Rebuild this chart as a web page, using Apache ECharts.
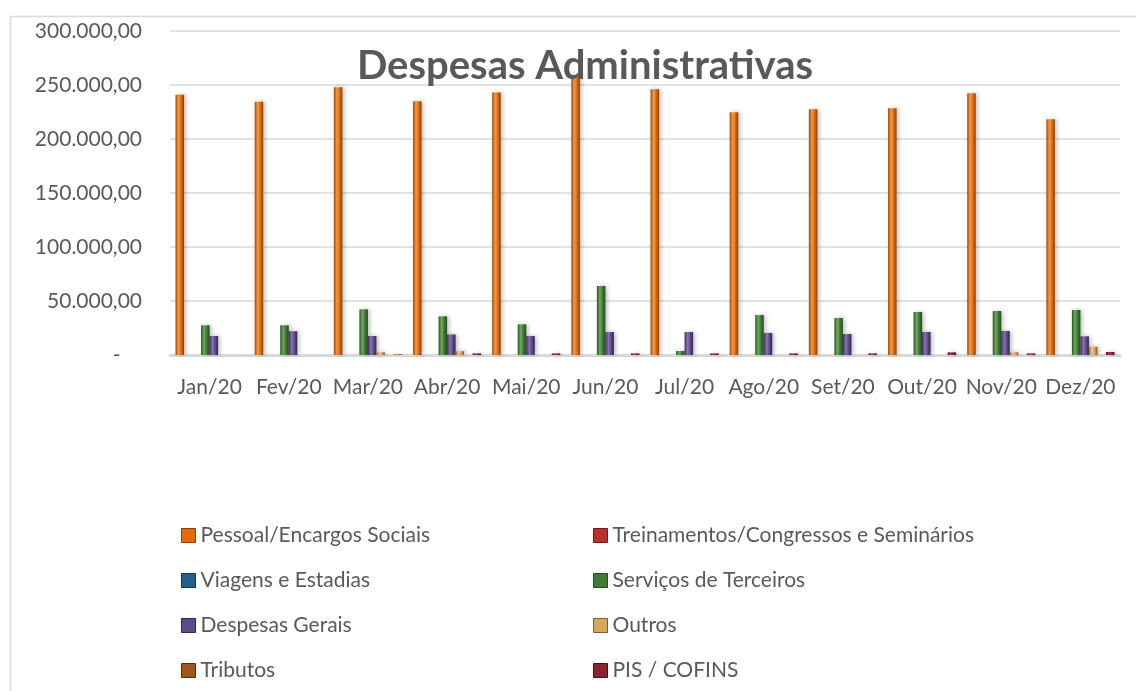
<!DOCTYPE html>
<html>
<head>
<meta charset="utf-8">
<script src="https://cdn.jsdelivr.net/npm/echarts@6/dist/echarts.min.js"></script>
<style>
html,body{margin:0;padding:0;background:#fff;}
#chart{width:1136px;height:691px;}
</style>
</head>
<body>
<div id="chart"></div>
<script>
const categories = ['Jan/20','Fev/20','Mar/20','Abr/20','Mai/20','Jun/20','Jul/20','Ago/20','Set/20','Out/20','Nov/20','Dez/20'];
const pessoal      = [241000,234500,248000,235000,243000,259000,246000,224700,227500,228400,242300,218200];
const treinamentos = [0,0,0,0,0,0,0,0,0,0,0,0];
const viagens      = [0,0,0,0,0,0,0,0,0,0,0,0];
const servicos     = [27500,27500,42300,35800,28400,63900,3700,37000,34300,39800,40700,41700];
const gerais       = [17600,22000,17600,19000,17600,21300,21300,20400,19400,21300,22200,17300];
const outros       = [0,0,2500,3500,0,0,0,0,0,0,2500,7600];
const tributos     = [0,0,0,0,0,0,0,0,0,0,0,0];
const pis          = [0,0,500,1500,1500,1500,1500,1500,1500,2500,1500,2800];
const yTicks = [0,50000,100000,150000,200000,250000,300000];

const names = ['Pessoal/Encargos Sociais','Treinamentos/Congressos e Seminários','Viagens e Estadias','Serviços de Terceiros','Despesas Gerais','Outros','Tributos','PIS / COFINS'];
const values = [pessoal,treinamentos,viagens,servicos,gerais,outros,tributos,pis];
const colors = [
  ['#9C4A06','#F49A4A','#E36C09','#8A3F04'],
  ['#7E1E22','#D65A5E','#B8312F','#6E1A1D'],
  ['#173F5C','#4C8FC0','#215F8C','#13354E'],
  ['#2A5522','#6FAA5E','#3F7B35','#24491D'],
  ['#3B2C5A','#8A74B4','#5E4B8A','#33264E'],
  ['#8E6B33','#F0CB85','#D6A65A','#7D5C2A'],
  ['#6A3410','#C77A3C','#A0541E','#5C2D0D'],
  ['#571319','#A8404B','#862630','#4B1015']
];

function fmt(v){
  if (v === 0) return '-    ';
  const s = Math.round(v).toString().replace(/\B(?=(\d{3})+(?!\d))/g,'.');
  return s + ',00';
}

const FONT = 'Lato';
const series = names.map((n,i)=>({
  name:n,
  type:'bar',
  data:values[i],
  barGap:'0%',
  barCategoryGap:'14%',
  itemStyle:{
    color:{type:'linear',x:0,y:0,x2:1,y2:0,colorStops:[
      {offset:0,color:colors[i][0]},
      {offset:0.35,color:colors[i][1]},
      {offset:0.65,color:colors[i][2]},
      {offset:1,color:colors[i][3]}
    ]},
    shadowColor:'rgba(0,0,0,0.25)',
    shadowBlur:4,
    shadowOffsetX:2
  }
}));

function legendData(idx){
  return idx.map(i=>({name:names[i], itemStyle:{color:colors[i][2], borderColor:colors[i][3], borderWidth:1}}));
}
const legendStyle = {
  orient:'vertical',
  itemWidth:14, itemHeight:14, itemGap:24,
  icon:'rect',
  textStyle:{fontFamily:FONT,fontSize:21,color:'#595959',lineHeight:21}
};

const chart = echarts.init(document.getElementById('chart'));
chart.setOption({
  animation:false,
  color:colors.map(c=>c[2]),
  title:{
    text:'Despesas Administrativas',
    left:580, top:41, textAlign:'center',
    textStyle:{fontFamily:FONT,fontSize:40,fontWeight:'bold',color:'#595959'}
  },
  graphic:[{
    type:'rect', z:-10,
    shape:{x:10.5,y:16.5,width:1200,height:800},
    style:{fill:'none',stroke:'#D9D9D9',lineWidth:1.5}
  }],
  legend:[
    Object.assign({left:176, top:520, data:legendData([0,2,4,6])}, legendStyle),
    Object.assign({left:588, top:520, data:legendData([1,3,5,7])}, legendStyle)
  ],
  grid:{left:170,right:16,top:31,bottom:336,containLabel:false},
  xAxis:{
    type:'category',
    data:categories,
    axisTick:{show:false},
    axisLine:{lineStyle:{color:'#D9D9D9',width:3}},
    axisLabel:{fontFamily:FONT,fontSize:21,color:'#595959',margin:22,interval:0}
  },
  yAxis:{
    type:'value',
    min:yTicks[0], max:yTicks[yTicks.length-1], interval:yTicks[1]-yTicks[0],
    axisLine:{show:false},
    axisTick:{show:false},
    splitLine:{lineStyle:{color:'#D9D9D9',width:1.5}},
    axisLabel:{fontFamily:FONT,fontSize:21,color:'#595959',margin:28,formatter:fmt}
  },
  series:series
});
</script>
</body>
</html>
